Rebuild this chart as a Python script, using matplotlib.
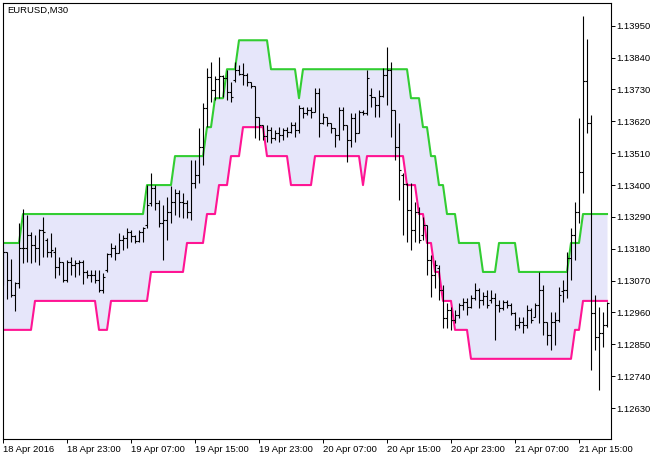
import numpy as np
import matplotlib
matplotlib.use('Agg')
import matplotlib.pyplot as plt

# EURUSD M30, 152 bars from 18 Apr 15:00
opens = [
    1.13107, 1.13169, 1.13072, 1.13020, 1.13062, 1.13183, 1.13183, 1.13228,
    1.13193, 1.13183, 1.13245, 1.13210, 1.13169, 1.13169, 1.13117, 1.13134,
    1.13072, 1.13134, 1.13124, 1.13131, 1.13134, 1.13100, 1.13089, 1.13089,
    1.13072, 1.13038, 1.13107, 1.13162, 1.13183, 1.13165, 1.13210, 1.13217,
    1.13238, 1.13224, 1.13207, 1.13238, 1.13262, 1.13338, 1.13390, 1.13338,
    1.13269, 1.13279, 1.13307, 1.13341, 1.13372, 1.13341, 1.13338, 1.13307,
    1.13407, 1.13435, 1.13531, 1.13666, 1.13773, 1.13728, 1.13766, 1.13777,
    1.13770, 1.13721, 1.13763, 1.13797, 1.13784, 1.13780, 1.13756, 1.13742,
    1.13635, 1.13607, 1.13569, 1.13590, 1.13563, 1.13580, 1.13573, 1.13590,
    1.13583, 1.13607, 1.13590, 1.13666, 1.13649, 1.13659, 1.13652, 1.13718,
    1.13614, 1.13635, 1.13614, 1.13597, 1.13573, 1.13659, 1.13607, 1.13556,
    1.13632, 1.13580, 1.13652, 1.13649, 1.13711, 1.13704, 1.13676, 1.13708,
    1.13780, 1.13797, 1.13659, 1.13531, 1.13435, 1.13404, 1.13314, 1.13245,
    1.13307, 1.13228, 1.13262, 1.13141, 1.13089, 1.13114, 1.13038, 1.12941,
    1.12969, 1.12934, 1.12951, 1.12986, 1.12996, 1.12979, 1.13010, 1.13038,
    1.13003, 1.13017, 1.13003, 1.13010, 1.12986, 1.12976, 1.12996, 1.12986,
    1.12958, 1.12917, 1.12927, 1.12917, 1.12969, 1.12944, 1.12986, 1.13038,
    1.12927, 1.12882, 1.12927, 1.12934, 1.13034, 1.13038, 1.13148, 1.13228,
    1.13307, 1.13445, 1.13759, 1.13614, 1.12958, 1.12875, 1.12889, 1.12917,
]
highs = [
    1.13183, 1.13169, 1.13145, 1.13065, 1.13269, 1.13317, 1.13297, 1.13238,
    1.13228, 1.13248, 1.13290, 1.13217, 1.13234, 1.13186, 1.13152, 1.13134,
    1.13141, 1.13152, 1.13141, 1.13141, 1.13141, 1.13107, 1.13107, 1.13107,
    1.13107, 1.13096, 1.13165, 1.13200, 1.13193, 1.13234, 1.13228, 1.13252,
    1.13245, 1.13228, 1.13245, 1.13255, 1.13400, 1.13442, 1.13400, 1.13348,
    1.13331, 1.13359, 1.13397, 1.13386, 1.13383, 1.13372, 1.13348, 1.13486,
    1.13486, 1.13597, 1.13683, 1.13804, 1.13825, 1.13777, 1.13842, 1.13780,
    1.13797, 1.13756, 1.13825, 1.13815, 1.13821, 1.13787, 1.13756, 1.13742,
    1.13635, 1.13607, 1.13607, 1.13601, 1.13590, 1.13601, 1.13597, 1.13601,
    1.13618, 1.13618, 1.13676, 1.13670, 1.13670, 1.13670, 1.13735, 1.13735,
    1.13649, 1.13635, 1.13614, 1.13597, 1.13670, 1.13670, 1.13607, 1.13649,
    1.13649, 1.13659, 1.13659, 1.13797, 1.13735, 1.13704, 1.13728, 1.13804,
    1.13877, 1.13825, 1.13659, 1.13614, 1.13442, 1.13407, 1.13407, 1.13341,
    1.13324, 1.13290, 1.13262, 1.13158, 1.13141, 1.13124, 1.13055, 1.12993,
    1.12979, 1.12969, 1.12993, 1.13010, 1.13010, 1.13020, 1.13062, 1.13045,
    1.13031, 1.13038, 1.13038, 1.13027, 1.13003, 1.13003, 1.13003, 1.12993,
    1.12962, 1.12944, 1.12944, 1.12986, 1.12976, 1.12993, 1.13100, 1.13055,
    1.12927, 1.12962, 1.12962, 1.13048, 1.13072, 1.13169, 1.13252, 1.13341,
    1.13632, 1.13984, 1.13904, 1.13642, 1.13020, 1.12979, 1.12962, 1.12996,
]
lows = [
    1.13055, 1.13007, 1.13014, 1.12965, 1.13045, 1.13131, 1.13134, 1.13131,
    1.13134, 1.13124, 1.13152, 1.13152, 1.13152, 1.13079, 1.13089, 1.13065,
    1.13065, 1.13089, 1.13083, 1.13089, 1.13058, 1.13079, 1.13065, 1.13062,
    1.13031, 1.13027, 1.13100, 1.13152, 1.13141, 1.13165, 1.13176, 1.13183,
    1.13203, 1.13200, 1.13203, 1.13203, 1.13252, 1.13328, 1.13314, 1.13255,
    1.13141, 1.13210, 1.13269, 1.13297, 1.13290, 1.13286, 1.13286, 1.13279,
    1.13390, 1.13407, 1.13469, 1.13601, 1.13687, 1.13694, 1.13701, 1.13704,
    1.13694, 1.13687, 1.13756, 1.13780, 1.13746, 1.13742, 1.13735, 1.13563,
    1.13556, 1.13556, 1.13549, 1.13545, 1.13556, 1.13549, 1.13556, 1.13566,
    1.13580, 1.13566, 1.13580, 1.13632, 1.13642, 1.13632, 1.13652, 1.13566,
    1.13611, 1.13604, 1.13580, 1.13531, 1.13556, 1.13590, 1.13480, 1.13531,
    1.13549, 1.13580, 1.13642, 1.13642, 1.13670, 1.13635, 1.13635, 1.13704,
    1.13676, 1.13566, 1.13486, 1.13348, 1.13228, 1.13203, 1.13176, 1.13203,
    1.13200, 1.13210, 1.13089, 1.13014, 1.13045, 1.13003, 1.12906, 1.12906,
    1.12900, 1.12924, 1.12941, 1.12969, 1.12951, 1.12976, 1.13003, 1.12976,
    1.12986, 1.12976, 1.12993, 1.12865, 1.12962, 1.12969, 1.12976, 1.12951,
    1.12900, 1.12906, 1.12889, 1.12906, 1.12924, 1.12944, 1.12924, 1.12882,
    1.12848, 1.12830, 1.12848, 1.12927, 1.12996, 1.13010, 1.13072, 1.13141,
    1.13269, 1.13372, 1.13580, 1.12761, 1.12830, 1.12692, 1.12841, 1.12910,
]
closes = [
    1.13169, 1.13072, 1.13020, 1.13062, 1.13183, 1.13183, 1.13228, 1.13193,
    1.13183, 1.13245, 1.13238, 1.13169, 1.13176, 1.13117, 1.13134, 1.13072,
    1.13134, 1.13124, 1.13131, 1.13134, 1.13100, 1.13089, 1.13089, 1.13072,
    1.13038, 1.13083, 1.13162, 1.13183, 1.13165, 1.13210, 1.13217, 1.13238,
    1.13224, 1.13207, 1.13238, 1.13252, 1.13331, 1.13390, 1.13338, 1.13269,
    1.13279, 1.13307, 1.13341, 1.13372, 1.13341, 1.13338, 1.13307, 1.13407,
    1.13435, 1.13531, 1.13666, 1.13773, 1.13728, 1.13766, 1.13777, 1.13770,
    1.13721, 1.13704, 1.13797, 1.13784, 1.13780, 1.13756, 1.13742, 1.13635,
    1.13607, 1.13569, 1.13590, 1.13563, 1.13580, 1.13573, 1.13590, 1.13583,
    1.13607, 1.13590, 1.13666, 1.13649, 1.13659, 1.13652, 1.13718, 1.13614,
    1.13635, 1.13614, 1.13597, 1.13573, 1.13659, 1.13607, 1.13556, 1.13632,
    1.13580, 1.13652, 1.13649, 1.13770, 1.13704, 1.13676, 1.13708, 1.13780,
    1.13797, 1.13659, 1.13531, 1.13452, 1.13404, 1.13314, 1.13245, 1.13307,
    1.13210, 1.13262, 1.13141, 1.13089, 1.13124, 1.13038, 1.12941, 1.12969,
    1.12934, 1.12951, 1.12986, 1.12996, 1.12979, 1.13010, 1.13038, 1.13003,
    1.13017, 1.12986, 1.13010, 1.12986, 1.12976, 1.12996, 1.12986, 1.12958,
    1.12917, 1.12927, 1.12917, 1.12969, 1.12934, 1.12986, 1.13038, 1.12927,
    1.12882, 1.12927, 1.12934, 1.13020, 1.13038, 1.13148, 1.13228, 1.13307,
    1.13445, 1.13759, 1.13614, 1.12958, 1.12875, 1.12889, 1.12917, 1.12993,
]

# channel lines
upper = [
    1.1320, 1.1320, 1.1320, 1.1320, 1.1320, 1.1330, 1.1330, 1.1330,
    1.1330, 1.1330, 1.1330, 1.1330, 1.1330, 1.1330, 1.1330, 1.1330,
    1.1330, 1.1330, 1.1330, 1.1330, 1.1330, 1.1330, 1.1330, 1.1330,
    1.1330, 1.1330, 1.1330, 1.1330, 1.1330, 1.1330, 1.1330, 1.1330,
    1.1330, 1.1330, 1.1330, 1.1330, 1.1340, 1.1340, 1.1340, 1.1340,
    1.1340, 1.1340, 1.1340, 1.1350, 1.1350, 1.1350, 1.1350, 1.1350,
    1.1350, 1.1350, 1.1350, 1.1360, 1.1360, 1.1370, 1.1370, 1.1370,
    1.1380, 1.1380, 1.1380, 1.1390, 1.1390, 1.1390, 1.1390, 1.1390,
    1.1390, 1.1390, 1.1390, 1.1380, 1.1380, 1.1380, 1.1380, 1.1380,
    1.1380, 1.1380, 1.1370, 1.1380, 1.1380, 1.1380, 1.1380, 1.1380,
    1.1380, 1.1380, 1.1380, 1.1380, 1.1380, 1.1380, 1.1380, 1.1380,
    1.1380, 1.1380, 1.1380, 1.1380, 1.1380, 1.1380, 1.1380, 1.1380,
    1.1380, 1.1380, 1.1380, 1.1380, 1.1380, 1.1380, 1.1370, 1.1370,
    1.1370, 1.1360, 1.1360, 1.1350, 1.1350, 1.1340, 1.1340, 1.1330,
    1.1330, 1.1330, 1.1320, 1.1320, 1.1320, 1.1320, 1.1320, 1.1320,
    1.1310, 1.1310, 1.1310, 1.1310, 1.1320, 1.1320, 1.1320, 1.1320,
    1.1320, 1.1310, 1.1310, 1.1310, 1.1310, 1.1310, 1.1310, 1.1310,
    1.1310, 1.1310, 1.1310, 1.1310, 1.1310, 1.1310, 1.1320, 1.1320,
    1.1320, 1.1330, 1.1330, 1.1330, 1.1330, 1.1330, 1.1330, 1.1330,
]
lower = [
    1.1290, 1.1290, 1.1290, 1.1290, 1.1290, 1.1290, 1.1290, 1.1290,
    1.1300, 1.1300, 1.1300, 1.1300, 1.1300, 1.1300, 1.1300, 1.1300,
    1.1300, 1.1300, 1.1300, 1.1300, 1.1300, 1.1300, 1.1300, 1.1300,
    1.1290, 1.1290, 1.1290, 1.1300, 1.1300, 1.1300, 1.1300, 1.1300,
    1.1300, 1.1300, 1.1300, 1.1300, 1.1300, 1.1310, 1.1310, 1.1310,
    1.1310, 1.1310, 1.1310, 1.1310, 1.1310, 1.1310, 1.1320, 1.1320,
    1.1320, 1.1320, 1.1320, 1.1330, 1.1330, 1.1330, 1.1340, 1.1340,
    1.1340, 1.1350, 1.1350, 1.1350, 1.1360, 1.1360, 1.1360, 1.1360,
    1.1360, 1.1360, 1.1350, 1.1350, 1.1350, 1.1350, 1.1350, 1.1350,
    1.1340, 1.1340, 1.1340, 1.1340, 1.1340, 1.1340, 1.1350, 1.1350,
    1.1350, 1.1350, 1.1350, 1.1350, 1.1350, 1.1350, 1.1350, 1.1350,
    1.1350, 1.1350, 1.1340, 1.1350, 1.1350, 1.1350, 1.1350, 1.1350,
    1.1350, 1.1350, 1.1350, 1.1350, 1.1350, 1.1340, 1.1340, 1.1340,
    1.1330, 1.1330, 1.1320, 1.1320, 1.1310, 1.1310, 1.1300, 1.1300,
    1.1300, 1.1290, 1.1290, 1.1290, 1.1290, 1.1280, 1.1280, 1.1280,
    1.1280, 1.1280, 1.1280, 1.1280, 1.1280, 1.1280, 1.1280, 1.1280,
    1.1280, 1.1280, 1.1280, 1.1280, 1.1280, 1.1280, 1.1280, 1.1280,
    1.1280, 1.1280, 1.1280, 1.1280, 1.1280, 1.1280, 1.1280, 1.1290,
    1.1290, 1.1300, 1.1300, 1.1300, 1.1300, 1.1300, 1.1300, 1.1300,
]

price_ticks = [1.12630, 1.12740, 1.12850, 1.12960, 1.13070, 1.13180, 1.13290,
               1.13400, 1.13510, 1.13620, 1.13730, 1.13840, 1.13950]
time_labels = ['18 Apr 2016', '18 Apr 23:00', '19 Apr 07:00', '19 Apr 15:00',
               '19 Apr 23:00', '20 Apr 07:00', '20 Apr 15:00', '20 Apr 23:00',
               '21 Apr 07:00', '21 Apr 15:00']
bars_per_label = 16

plt.rcParams['font.family'] = ['Liberation Sans', 'DejaVu Sans']

fig = plt.figure(figsize=(6.62, 4.59), dpi=100)
ax = fig.add_axes([2.5 / 662, 1 - 438.5 / 459, 608.2 / 662, 436 / 459])

x = np.arange(len(opens))
ax.fill_between(x, lower, upper, color='#E6E6FA', lw=0)
ax.plot(x, upper, color='#32CD32', lw=1.5)
ax.plot(x, lower, color='#FF1493', lw=1.5)

# OHLC bars
ax.vlines(x, lows, highs, color='black', lw=0.8)
ax.hlines(opens, x - 0.4, x, color='black', lw=0.8)
ax.hlines(closes, x, x + 0.4, color='black', lw=0.8)

ax.set_xlim(-0.125, 151.925)
ax.set_ylim(1.125249, 1.140304)

ax.yaxis.tick_right()
ax.set_yticks(price_ticks)
ax.set_yticklabels(['%.5f' % v for v in price_ticks])
ax.set_xticks(x[::bars_per_label][:len(time_labels)])
ax.set_xticklabels(time_labels, ha='left')
ax.tick_params(axis='y', direction='out', length=2.8, width=0.7, pad=1, labelsize=6.8)
ax.tick_params(axis='x', direction='out', length=3, width=0.7, pad=1.5, labelsize=6.8)
for s in ax.spines.values():
    s.set_color('black')
    s.set_linewidth(0.8)

ax.text(0.007, 0.993, 'EURUSD,M30', transform=ax.transAxes, ha='left', va='top', fontsize=6.8)

fig.savefig('out.png', dpi=100)
